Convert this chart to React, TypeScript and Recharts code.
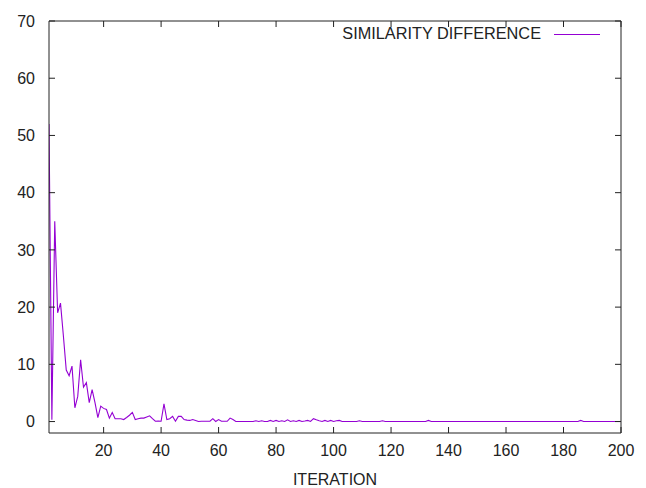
import React from 'react';
import { LineChart, Line, XAxis, YAxis, Legend } from 'recharts';

// similarity difference per iteration
const similarityDiff = [
  52, 0.3, 35, 19, 20.7, 15, 9, 8, 9.7, 2.4,
  4.4, 10.8, 6, 6.8, 3.3, 5.6, 3.3, 0.7, 2.7, 2.3,
  2.1, 0.6, 1.6, 0.5, 0.5, 0.5, 0.35, 0.7, 1.1, 1.6,
  0.35, 0.5, 0.6, 0.6, 0.8, 1.0, 0.5, 0.05, 0.1, 0.05,
  3.1, 0.35, 0.5, 0.9, 0.05, 0.9, 0.9, 0.35, 0.25, 0.2,
  0.35, 0.2, 0.02, 0.05, 0.05, 0.05, 0.05, 0.5, 0.02, 0.35,
  0.05, 0.05, 0.05, 0.6, 0.35, 0.02, 0.02, 0.02, 0.02, 0.02,
  0.02, 0.02, 0.15, 0.02, 0.15, 0.02, 0.02, 0.2, 0.02, 0.2,
  0.02, 0.15, 0.02, 0.3, 0.02, 0.15, 0.02, 0.2, 0.02, 0.1,
  0.2, 0.02, 0.5, 0.3, 0.15, 0.02, 0.2, 0.02, 0.2, 0.02,
  0.15, 0.2, 0.02, 0.02, 0.02, 0.02, 0.02, 0.02, 0.15, 0.02,
  0.02, 0.02, 0.02, 0.02, 0.02, 0.02, 0.15, 0.02, 0.02, 0.02,
  0.02, 0.02, 0.02, 0.02, 0.02, 0.02, 0.02, 0.02, 0.02, 0.02,
  0.02, 0.02, 0.2, 0.02, 0.02, 0.02, 0.02, 0.02, 0.02, 0.02,
  0.02, 0.02, 0.02, 0.02, 0.02, 0.02, 0.02, 0.02, 0.02, 0.02,
  0.02, 0.02, 0.02, 0.02, 0.02, 0.02, 0.02, 0.02, 0.02, 0.02,
  0.02, 0.02, 0.02, 0.02, 0.02, 0.02, 0.02, 0.02, 0.02, 0.02,
  0.02, 0.02, 0.02, 0.02, 0.02, 0.02, 0.02, 0.02, 0.02, 0.02,
  0.02, 0.02, 0.02, 0.02, 0.02, 0.2, 0.02, 0.02, 0.02, 0.02,
  0.02, 0.02, 0.02, 0.02, 0.02, 0.02, 0.02, 0.02, 0.02, 0.02,
];

const xTicks = [20, 40, 60, 80, 100, 120, 140, 160, 180, 200];
const yTicks = [0, 10, 20, 30, 40, 50, 60, 70];

const data = similarityDiff.map((v, i) => ({ iter: i + 1, diff: v }));

const FONT = 'Liberation Sans, Arial, sans-serif';
const INK = '#222';
const LINE = '#9400d3';

const tickStyle = { fontFamily: FONT, fontSize: 16, fill: INK };
const blank = () => '';

const renderLegend = () => (
  <svg width={290} height={26}>
    <text x={211} y={18} textAnchor="end" fontFamily={FONT} fontSize={16.3} fill={INK}>
      SIMILARITY DIFFERENCE
    </text>
    <line x1={224} x2={270} y1={13.5} y2={13.5} stroke={LINE} strokeWidth={1.1} />
  </svg>
);

const App = () => {
  return (
    <div style={{ position: 'absolute', left: 0, top: 0 }}>
      <LineChart width={646} height={488} data={data} margin={{ top: 20, right: 24, bottom: 0, left: 0 }}>
        <XAxis
          dataKey="iter"
          type="number"
          domain={[1, 200]}
          ticks={xTicks}
          allowDataOverflow
          height={55}
          tickSize={-6}
          tickMargin={18}
          tick={tickStyle}
          axisLine={{ stroke: INK }}
          tickLine={{ stroke: INK }}
          label={{ value: 'ITERATION', position: 'insideBottom', offset: 3, style: { fontFamily: FONT, fontSize: 16, fill: INK } }}
        />
        <XAxis
          xAxisId="top"
          orientation="top"
          dataKey="iter"
          type="number"
          domain={[1, 200]}
          ticks={xTicks}
          allowDataOverflow
          height={1}
          tickSize={-6}
          tickFormatter={blank}
          axisLine={{ stroke: INK }}
          tickLine={{ stroke: INK }}
        />
        <YAxis
          type="number"
          domain={[-2, 70]}
          ticks={yTicks}
          allowDataOverflow
          width={49}
          tickSize={-6}
          tickMargin={20}
          tick={tickStyle}
          axisLine={{ stroke: INK }}
          tickLine={{ stroke: INK }}
        />
        <YAxis
          yAxisId="right"
          orientation="right"
          type="number"
          domain={[-2, 70]}
          ticks={yTicks}
          allowDataOverflow
          width={1}
          tickSize={-6}
          tickFormatter={blank}
          axisLine={{ stroke: INK }}
          tickLine={{ stroke: INK }}
        />
        <Legend
          layout="horizontal"
          verticalAlign="middle"
          align="center"
          wrapperStyle={{ top: 21, left: 330, width: 290 }}
          content={renderLegend}
        />
        <Line
          type="linear"
          dataKey="diff"
          name="SIMILARITY DIFFERENCE"
          stroke={LINE}
          strokeWidth={1.1}
          dot={false}
          isAnimationActive={false}
        />
      </LineChart>
    </div>
  );
};

export default App;
